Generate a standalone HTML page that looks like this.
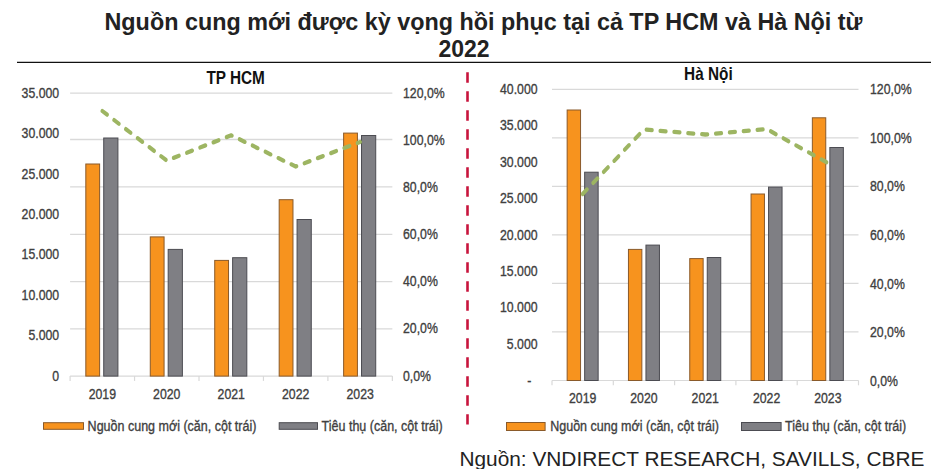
<!DOCTYPE html>
<html><head><meta charset="utf-8"><style>
html,body{margin:0;padding:0;background:#fff;}
svg{display:block;font-family:"Liberation Sans",sans-serif;}
</style></head><body>
<svg width="945" height="469" viewBox="0 0 945 469">
<rect width="945" height="469" fill="#fff"/>
<text x="104.5" y="30.2" font-size="23" font-weight="bold" fill="#222" textLength="758" lengthAdjust="spacingAndGlyphs">Nguồn cung mới được kỳ vọng hồi phục tại cả TP HCM và Hà Nội từ</text>
<text x="438.5" y="57.3" font-size="23" font-weight="bold" fill="#222">2022</text>
<line x1="17" y1="62.4" x2="931" y2="62.4" stroke="#111" stroke-width="1.4"/>
<line x1="467.5" y1="72.2" x2="467.5" y2="424.5" stroke="#c8143c" stroke-width="2.6" stroke-dasharray="10.6 8.4"/>
<line x1="70.1" y1="93.20" x2="392.35" y2="93.20" stroke="#d9d9d9" stroke-width="1.3"/>
<line x1="70.1" y1="139.50" x2="392.35" y2="139.50" stroke="#d9d9d9" stroke-width="1.3"/>
<line x1="70.1" y1="186.90" x2="392.35" y2="186.90" stroke="#d9d9d9" stroke-width="1.3"/>
<line x1="70.1" y1="234.40" x2="392.35" y2="234.40" stroke="#d9d9d9" stroke-width="1.3"/>
<line x1="70.1" y1="281.70" x2="392.35" y2="281.70" stroke="#d9d9d9" stroke-width="1.3"/>
<line x1="70.1" y1="328.90" x2="392.35" y2="328.90" stroke="#d9d9d9" stroke-width="1.3"/>
<line x1="70.1" y1="376.1" x2="392.35" y2="376.1" stroke="#d9d9d9" stroke-width="1.2"/>
<line x1="70.10" y1="376.1" x2="70.10" y2="380.90000000000003" stroke="#d9d9d9" stroke-width="1.2"/>
<line x1="134.55" y1="376.1" x2="134.55" y2="380.90000000000003" stroke="#d9d9d9" stroke-width="1.2"/>
<line x1="199.00" y1="376.1" x2="199.00" y2="380.90000000000003" stroke="#d9d9d9" stroke-width="1.2"/>
<line x1="263.45" y1="376.1" x2="263.45" y2="380.90000000000003" stroke="#d9d9d9" stroke-width="1.2"/>
<line x1="327.90" y1="376.1" x2="327.90" y2="380.90000000000003" stroke="#d9d9d9" stroke-width="1.2"/>
<line x1="392.35" y1="376.1" x2="392.35" y2="380.90000000000003" stroke="#d9d9d9" stroke-width="1.2"/>
<rect x="85.82" y="164.00" width="13.80" height="212.10" fill="#F7931E" stroke="#8a5a2a" stroke-width="1"/>
<rect x="103.72" y="138.00" width="14.20" height="238.10" fill="#7f7f84" stroke="#4c4c52" stroke-width="1"/>
<rect x="150.28" y="236.90" width="13.80" height="139.20" fill="#F7931E" stroke="#8a5a2a" stroke-width="1"/>
<rect x="168.18" y="249.40" width="14.20" height="126.70" fill="#7f7f84" stroke="#4c4c52" stroke-width="1"/>
<rect x="214.72" y="260.40" width="13.80" height="115.70" fill="#F7931E" stroke="#8a5a2a" stroke-width="1"/>
<rect x="232.62" y="257.70" width="14.20" height="118.40" fill="#7f7f84" stroke="#4c4c52" stroke-width="1"/>
<rect x="279.18" y="199.70" width="13.80" height="176.40" fill="#F7931E" stroke="#8a5a2a" stroke-width="1"/>
<rect x="297.07" y="219.50" width="14.20" height="156.60" fill="#7f7f84" stroke="#4c4c52" stroke-width="1"/>
<rect x="343.62" y="133.10" width="13.80" height="243.00" fill="#F7931E" stroke="#8a5a2a" stroke-width="1"/>
<rect x="361.52" y="135.50" width="14.20" height="240.60" fill="#7f7f84" stroke="#4c4c52" stroke-width="1"/>
<polyline transform="scale(0.82,1)" points="124.79,111.00 203.38,160.60 281.98,135.30 360.58,166.50 439.18,142.00" fill="none" stroke="#9db562" stroke-width="4.3" stroke-dasharray="6.9 10.05" stroke-linecap="round" stroke-linejoin="round"/>
<text transform="translate(59.20,97.70) scale(0.82,1)" text-anchor="end" font-size="15" fill="#404040" font-weight="normal" stroke="#404040" stroke-width="0.35">35.000</text>
<text transform="translate(59.20,138.10) scale(0.82,1)" text-anchor="end" font-size="15" fill="#404040" font-weight="normal" stroke="#404040" stroke-width="0.35">30.000</text>
<text transform="translate(59.20,178.50) scale(0.82,1)" text-anchor="end" font-size="15" fill="#404040" font-weight="normal" stroke="#404040" stroke-width="0.35">25.000</text>
<text transform="translate(59.20,218.90) scale(0.82,1)" text-anchor="end" font-size="15" fill="#404040" font-weight="normal" stroke="#404040" stroke-width="0.35">20.000</text>
<text transform="translate(59.20,259.30) scale(0.82,1)" text-anchor="end" font-size="15" fill="#404040" font-weight="normal" stroke="#404040" stroke-width="0.35">15.000</text>
<text transform="translate(59.20,299.70) scale(0.82,1)" text-anchor="end" font-size="15" fill="#404040" font-weight="normal" stroke="#404040" stroke-width="0.35">10.000</text>
<text transform="translate(59.20,340.10) scale(0.82,1)" text-anchor="end" font-size="15" fill="#404040" font-weight="normal" stroke="#404040" stroke-width="0.35">5.000</text>
<text transform="translate(59.20,380.50) scale(0.82,1)" text-anchor="end" font-size="15" fill="#404040" font-weight="normal" stroke="#404040" stroke-width="0.35">0</text>
<text transform="translate(403.00,97.60) scale(0.82,1)" text-anchor="start" font-size="15" fill="#404040" font-weight="normal" stroke="#404040" stroke-width="0.35">120,0%</text>
<text transform="translate(403.00,144.75) scale(0.82,1)" text-anchor="start" font-size="15" fill="#404040" font-weight="normal" stroke="#404040" stroke-width="0.35">100,0%</text>
<text transform="translate(403.00,191.90) scale(0.82,1)" text-anchor="start" font-size="15" fill="#404040" font-weight="normal" stroke="#404040" stroke-width="0.35">80,0%</text>
<text transform="translate(403.00,239.05) scale(0.82,1)" text-anchor="start" font-size="15" fill="#404040" font-weight="normal" stroke="#404040" stroke-width="0.35">60,0%</text>
<text transform="translate(403.00,286.20) scale(0.82,1)" text-anchor="start" font-size="15" fill="#404040" font-weight="normal" stroke="#404040" stroke-width="0.35">40,0%</text>
<text transform="translate(403.00,333.35) scale(0.82,1)" text-anchor="start" font-size="15" fill="#404040" font-weight="normal" stroke="#404040" stroke-width="0.35">20,0%</text>
<text transform="translate(403.00,380.50) scale(0.82,1)" text-anchor="start" font-size="15" fill="#404040" font-weight="normal" stroke="#404040" stroke-width="0.35">0,0%</text>
<text transform="translate(102.32,398.60) scale(0.82,1)" text-anchor="middle" font-size="15" fill="#404040" font-weight="normal" stroke="#404040" stroke-width="0.35">2019</text>
<text transform="translate(166.78,398.60) scale(0.82,1)" text-anchor="middle" font-size="15" fill="#404040" font-weight="normal" stroke="#404040" stroke-width="0.35">2020</text>
<text transform="translate(231.22,398.60) scale(0.82,1)" text-anchor="middle" font-size="15" fill="#404040" font-weight="normal" stroke="#404040" stroke-width="0.35">2021</text>
<text transform="translate(295.68,398.60) scale(0.82,1)" text-anchor="middle" font-size="15" fill="#404040" font-weight="normal" stroke="#404040" stroke-width="0.35">2022</text>
<text transform="translate(360.12,398.60) scale(0.82,1)" text-anchor="middle" font-size="15" fill="#404040" font-weight="normal" stroke="#404040" stroke-width="0.35">2023</text>
<text transform="translate(206.40,84.30) scale(0.82,1)" text-anchor="start" font-size="18.7" fill="#111" font-weight="bold">TP HCM</text>
<rect x="43.5" y="422.7" width="40" height="6.6" fill="#F7931E" stroke="#8a5a2a" stroke-width="1"/>
<rect x="279.2" y="422.7" width="38.3" height="6.6" fill="#7f7f84" stroke="#4c4c52" stroke-width="1"/>
<text transform="translate(87.60,431.00) scale(0.835,1)" text-anchor="start" font-size="15" fill="#404040" font-weight="normal" stroke="#404040" stroke-width="0.35">Nguồn cung mới (căn, cột trái)</text>
<text transform="translate(321.60,431.00) scale(0.835,1)" text-anchor="start" font-size="15" fill="#404040" font-weight="normal" stroke="#404040" stroke-width="0.35">Tiêu thụ (căn, cột trái)</text>
<line x1="552" y1="89.30" x2="858.5" y2="89.30" stroke="#d9d9d9" stroke-width="1.3"/>
<line x1="552" y1="137.82" x2="858.5" y2="137.82" stroke="#d9d9d9" stroke-width="1.3"/>
<line x1="552" y1="186.34" x2="858.5" y2="186.34" stroke="#d9d9d9" stroke-width="1.3"/>
<line x1="552" y1="234.86" x2="858.5" y2="234.86" stroke="#d9d9d9" stroke-width="1.3"/>
<line x1="552" y1="283.38" x2="858.5" y2="283.38" stroke="#d9d9d9" stroke-width="1.3"/>
<line x1="552" y1="331.90" x2="858.5" y2="331.90" stroke="#d9d9d9" stroke-width="1.3"/>
<line x1="552" y1="380.5" x2="858.5" y2="380.5" stroke="#d9d9d9" stroke-width="1.2"/>
<line x1="552.00" y1="380.5" x2="552.00" y2="385.3" stroke="#d9d9d9" stroke-width="1.2"/>
<line x1="613.30" y1="380.5" x2="613.30" y2="385.3" stroke="#d9d9d9" stroke-width="1.2"/>
<line x1="674.60" y1="380.5" x2="674.60" y2="385.3" stroke="#d9d9d9" stroke-width="1.2"/>
<line x1="735.90" y1="380.5" x2="735.90" y2="385.3" stroke="#d9d9d9" stroke-width="1.2"/>
<line x1="797.20" y1="380.5" x2="797.20" y2="385.3" stroke="#d9d9d9" stroke-width="1.2"/>
<line x1="858.50" y1="380.5" x2="858.50" y2="385.3" stroke="#d9d9d9" stroke-width="1.2"/>
<rect x="567.15" y="110.00" width="13.40" height="270.50" fill="#F7931E" stroke="#8a5a2a" stroke-width="1"/>
<rect x="584.65" y="172.20" width="13.50" height="208.30" fill="#7f7f84" stroke="#4c4c52" stroke-width="1"/>
<rect x="628.45" y="249.40" width="13.40" height="131.10" fill="#F7931E" stroke="#8a5a2a" stroke-width="1"/>
<rect x="645.95" y="245.10" width="13.50" height="135.40" fill="#7f7f84" stroke="#4c4c52" stroke-width="1"/>
<rect x="689.75" y="258.60" width="13.40" height="121.90" fill="#F7931E" stroke="#8a5a2a" stroke-width="1"/>
<rect x="707.25" y="257.50" width="13.50" height="123.00" fill="#7f7f84" stroke="#4c4c52" stroke-width="1"/>
<rect x="751.05" y="194.00" width="13.40" height="186.50" fill="#F7931E" stroke="#8a5a2a" stroke-width="1"/>
<rect x="768.55" y="187.10" width="13.50" height="193.40" fill="#7f7f84" stroke="#4c4c52" stroke-width="1"/>
<rect x="812.35" y="117.80" width="13.40" height="262.70" fill="#F7931E" stroke="#8a5a2a" stroke-width="1"/>
<rect x="829.85" y="147.50" width="13.50" height="233.00" fill="#7f7f84" stroke="#4c4c52" stroke-width="1"/>
<polyline transform="scale(0.82,1)" points="710.55,194.00 785.30,129.50 860.06,134.50 934.82,129.00 1009.57,163.00" fill="none" stroke="#9db562" stroke-width="4.3" stroke-dasharray="6.9 10.05" stroke-linecap="round" stroke-linejoin="round"/>
<text transform="translate(537.60,93.90) scale(0.82,1)" text-anchor="end" font-size="15" fill="#404040" font-weight="normal" stroke="#404040" stroke-width="0.35">40.000</text>
<text transform="translate(537.60,130.32) scale(0.82,1)" text-anchor="end" font-size="15" fill="#404040" font-weight="normal" stroke="#404040" stroke-width="0.35">35.000</text>
<text transform="translate(537.60,166.75) scale(0.82,1)" text-anchor="end" font-size="15" fill="#404040" font-weight="normal" stroke="#404040" stroke-width="0.35">30.000</text>
<text transform="translate(537.60,203.17) scale(0.82,1)" text-anchor="end" font-size="15" fill="#404040" font-weight="normal" stroke="#404040" stroke-width="0.35">25.000</text>
<text transform="translate(537.60,239.60) scale(0.82,1)" text-anchor="end" font-size="15" fill="#404040" font-weight="normal" stroke="#404040" stroke-width="0.35">20.000</text>
<text transform="translate(537.60,276.02) scale(0.82,1)" text-anchor="end" font-size="15" fill="#404040" font-weight="normal" stroke="#404040" stroke-width="0.35">15.000</text>
<text transform="translate(537.60,312.45) scale(0.82,1)" text-anchor="end" font-size="15" fill="#404040" font-weight="normal" stroke="#404040" stroke-width="0.35">10.000</text>
<text transform="translate(537.60,348.87) scale(0.82,1)" text-anchor="end" font-size="15" fill="#404040" font-weight="normal" stroke="#404040" stroke-width="0.35">5.000</text>
<text transform="translate(531.30,386.30) scale(0.82,1)" text-anchor="end" font-size="15" fill="#404040" font-weight="normal" stroke="#404040" stroke-width="0.35">-</text>
<text transform="translate(870.00,94.30) scale(0.82,1)" text-anchor="start" font-size="15" fill="#404040" font-weight="normal" stroke="#404040" stroke-width="0.35">120,0%</text>
<text transform="translate(870.00,142.87) scale(0.82,1)" text-anchor="start" font-size="15" fill="#404040" font-weight="normal" stroke="#404040" stroke-width="0.35">100,0%</text>
<text transform="translate(870.00,191.43) scale(0.82,1)" text-anchor="start" font-size="15" fill="#404040" font-weight="normal" stroke="#404040" stroke-width="0.35">80,0%</text>
<text transform="translate(870.00,240.00) scale(0.82,1)" text-anchor="start" font-size="15" fill="#404040" font-weight="normal" stroke="#404040" stroke-width="0.35">60,0%</text>
<text transform="translate(870.00,288.57) scale(0.82,1)" text-anchor="start" font-size="15" fill="#404040" font-weight="normal" stroke="#404040" stroke-width="0.35">40,0%</text>
<text transform="translate(870.00,337.13) scale(0.82,1)" text-anchor="start" font-size="15" fill="#404040" font-weight="normal" stroke="#404040" stroke-width="0.35">20,0%</text>
<text transform="translate(870.00,385.70) scale(0.82,1)" text-anchor="start" font-size="15" fill="#404040" font-weight="normal" stroke="#404040" stroke-width="0.35">0,0%</text>
<text transform="translate(582.65,402.80) scale(0.82,1)" text-anchor="middle" font-size="15" fill="#404040" font-weight="normal" stroke="#404040" stroke-width="0.35">2019</text>
<text transform="translate(643.95,402.80) scale(0.82,1)" text-anchor="middle" font-size="15" fill="#404040" font-weight="normal" stroke="#404040" stroke-width="0.35">2020</text>
<text transform="translate(705.25,402.80) scale(0.82,1)" text-anchor="middle" font-size="15" fill="#404040" font-weight="normal" stroke="#404040" stroke-width="0.35">2021</text>
<text transform="translate(766.55,402.80) scale(0.82,1)" text-anchor="middle" font-size="15" fill="#404040" font-weight="normal" stroke="#404040" stroke-width="0.35">2022</text>
<text transform="translate(827.85,402.80) scale(0.82,1)" text-anchor="middle" font-size="15" fill="#404040" font-weight="normal" stroke="#404040" stroke-width="0.35">2023</text>
<text transform="translate(684.10,80.40) scale(0.82,1)" text-anchor="start" font-size="18.7" fill="#111" font-weight="bold">Hà Nội</text>
<rect x="506.5" y="422.5" width="38.6" height="8" fill="#F7931E" stroke="#8a5a2a" stroke-width="1"/>
<rect x="741.5" y="422.5" width="39.6" height="8" fill="#7f7f84" stroke="#4c4c52" stroke-width="1"/>
<text transform="translate(550.20,431.40) scale(0.835,1)" text-anchor="start" font-size="15" fill="#404040" font-weight="normal" stroke="#404040" stroke-width="0.35">Nguồn cung mới (căn, cột trái)</text>
<text transform="translate(785.10,431.40) scale(0.835,1)" text-anchor="start" font-size="15" fill="#404040" font-weight="normal" stroke="#404040" stroke-width="0.35">Tiêu thụ (căn, cột trái)</text>
<text x="459.4" y="466" font-size="20.5" fill="#222" textLength="465" lengthAdjust="spacingAndGlyphs">Nguồn: VNDIRECT RESEARCH, SAVILLS, CBRE</text>
</svg>
</body></html>
